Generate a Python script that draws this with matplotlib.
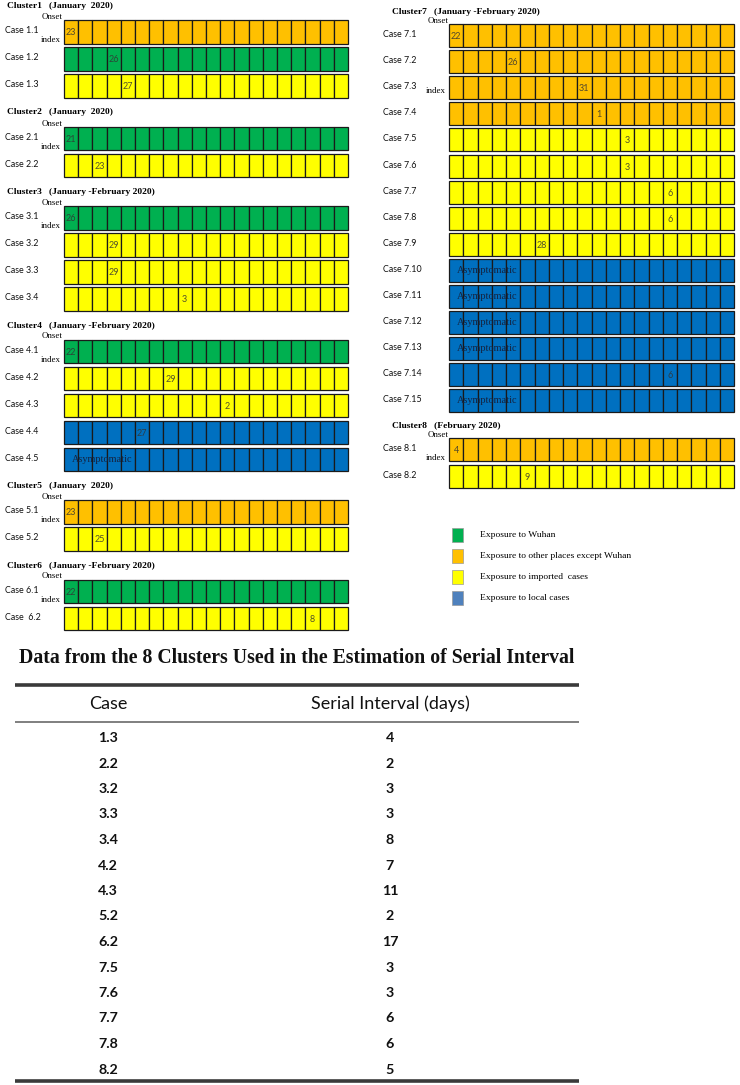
import matplotlib
matplotlib.use("Agg")
import matplotlib.pyplot as plt

# ---- data ----
cluster_titles = [
    "Cluster1   (January  2020)",
    "Cluster2   (January  2020)",
    "Cluster3   (January -February 2020)",
    "Cluster4   (January -February 2020)",
    "Cluster5   (January  2020)",
    "Cluster6   (January -February 2020)",
    "Cluster7   (January -February 2020)",
    "Cluster8   (February 2020)",
]

case_labels = [
    "Case 1.1", "Case 1.2", "Case 1.3",
    "Case 2.1", "Case 2.2",
    "Case 3.1", "Case 3.2", "Case 3.3", "Case 3.4",
    "Case 4.1", "Case 4.2", "Case 4.3", "Case 4.4", "Case 4.5",
    "Case 5.1", "Case 5.2",
    "Case 6.1", "Case  6.2",
    "Case 7.1", "Case 7.2", "Case 7.3", "Case 7.4", "Case 7.5", "Case 7.6",
    "Case 7.7", "Case 7.8", "Case 7.9", "Case 7.10", "Case 7.11", "Case 7.12",
    "Case 7.13", "Case 7.14", "Case 7.15",
    "Case 8.1", "Case 8.2",
]
case_cluster = [1, 1, 1, 2, 2, 3, 3, 3, 3, 4, 4, 4, 4, 4, 5, 5, 6, 6,
                7, 7, 7, 7, 7, 7, 7, 7, 7, 7, 7, 7, 7, 7, 7, 8, 8]
case_exposure = [
    "other", "wuhan", "imported",
    "wuhan", "imported",
    "wuhan", "imported", "imported", "imported",
    "wuhan", "imported", "imported", "local", "local",
    "other", "imported",
    "wuhan", "imported",
    "other", "other", "other", "other", "imported", "imported",
    "imported", "imported", "imported", "local", "local", "local",
    "local", "local", "local",
    "other", "imported",
]
# onset day label and the day cell (days after the index case onset)
case_onset = ["23", "26", "27", "21", "23", "26", "29", "29", "3",
              "22", "29", "2", "27", "Asymptomatic", "23", "25", "22", "8",
              "22", "26", "31", "1", "3", "3", "6", "6", "28",
              "Asymptomatic", "Asymptomatic", "Asymptomatic", "Asymptomatic",
              "6", "Asymptomatic", "4", "9"]
case_day = [0, 3, 4, 0, 2, 0, 3, 3, 8, 0, 7, 11, 5, 0, 0, 2, 0, 17,
            0, 4, 9, 10, 12, 12, 15, 15, 6, 0, 0, 0, 0, 15, 0, 0, 5]

onset_marks = ["Case 1.1", "Case 2.1", "Case 3.1", "Case 4.1", "Case 5.1",
               "Case 6.1", "Case 7.1", "Case 8.1"]
index_marks = ["Case 1.1", "Case 2.1", "Case 3.1", "Case 4.1", "Case 5.1",
               "Case 6.1", "Case 7.3", "Case 8.1"]

legend_labels = ["Exposure to Wuhan", "Exposure to other places except Wuhan",
                 "Exposure to imported  cases", "Exposure to local cases"]

table_title = "Data from the 8 Clusters Used in the Estimation of Serial Interval"
table_header = ["Case", "Serial Interval (days)"]
table_cases = ["1.3", "2.2", "3.2", "3.3", "3.4", "4.2", "4.3", "5.2", "6.2",
               "7.5", "7.6", "7.7", "7.8", "8.2"]
serial_interval = [4, 2, 3, 3, 8, 7, 11, 2, 17, 3, 3, 6, 6, 5]

# ---- style ----
colors = {"wuhan": "#00b050", "other": "#ffc000",
          "imported": "#ffff00", "local": "#0070c0"}
legend_colors = ["#00b050", "#ffc000", "#ffff00", "#4f81bd"]
n_cells = 20
serif = ["Liberation Serif", "DejaVu Serif"]
sans = ["Lato", "DejaVu Sans"]

fig = plt.figure(figsize=(7.4, 10.85), dpi=100)
ax = fig.add_axes([0, 0, 1, 1])
ax.set_xlim(0, 740)
ax.set_ylim(1085, 0)
ax.axis("off")

# panel layout: clusters 1-6 on the left, 7-8 on the right
panels = {
    "left": dict(clusters=[1, 2, 3, 4, 5, 6], x0=64, x1=348, lab_x=5,
                 title_x=7, y=6, gap=14, pitch=27, h=23.5, after=15),
    "right": dict(clusters=[7, 8], x0=449, x1=734, lab_x=383,
                  title_x=392, y=12, gap=12, pitch=26.1, h=23, after=14),
}

for p in panels.values():
    y = p["y"]
    cw = (p["x1"] - p["x0"]) / n_cells
    lefts = [p["x0"] + i * cw for i in range(n_cells)]
    for c in p["clusters"]:
        ax.text(p["title_x"], y, cluster_titles[c - 1], family=serif,
                fontweight="bold", fontsize=6.8, va="center", ha="left")
        top = y + p["gap"]
        idx = [i for i, k in enumerate(case_cluster) if k == c]
        for j, i in enumerate(idx):
            bt = top + j * p["pitch"]
            yc = bt + p["h"] / 2
            ax.barh([yc] * n_cells, [cw] * n_cells, left=lefts, height=p["h"],
                    color=colors[case_exposure[i]], edgecolor="#1a1a1a",
                    linewidth=0.9)
            name = case_labels[i]
            ax.text(p["lab_x"], yc - 1, name, family=sans, fontsize=6.4,
                    va="center", ha="left", color="#111111")
            if name in onset_marks:
                ax.text(p["x0"] - 1, bt - 3, "Onset", family=serif,
                        fontsize=6.4, va="center", ha="right")
            if name in index_marks:
                iy = bt + p["h"] - 3 if name in onset_marks else yc + 3
                ax.text(p["x0"] - 3, iy, "index", family=serif,
                        fontsize=6.4, va="center", ha="right")
            lab = case_onset[i]
            if lab == "Asymptomatic":
                ax.text(p["x0"] + 8, yc, lab, family=serif, fontsize=7.4,
                        va="center", ha="left", color="#15233f")
            else:
                ax.text(lefts[case_day[i]] + cw / 2, yc + 1, lab, family=sans,
                        fontsize=6.5, va="center", ha="center",
                        color="#333333", alpha=0.85)
        y = top + (len(idx) - 1) * p["pitch"] + p["h"] + p["after"]

# legend
for k, (lab, col) in enumerate(zip(legend_labels, legend_colors)):
    ly = 535 + k * 21
    ax.barh([ly], [11], left=[452], height=14, color=col,
            edgecolor="#9a9a9a", linewidth=0.5)
    ax.text(480, ly, lab, family=serif, fontsize=6.8, va="center", ha="left")

# table
ax.text(297, 658, table_title, family=serif, fontweight="bold",
        fontsize=14.2, ha="center", va="center", color="#111111")
ax.plot([15, 579], [685, 685], color="#3a3a3a", lw=2.6,
        solid_capstyle="butt")
ax.plot([15, 579], [722, 722], color="#6a6a6a", lw=1.2,
        solid_capstyle="butt")
ax.text(108, 704, table_header[0], family=sans, fontsize=13,
        ha="center", va="center", color="#111111")
ax.text(390, 704, table_header[1], family=sans, fontsize=13,
        ha="center", va="center", color="#111111")
for r, (cs, si) in enumerate(zip(table_cases, serial_interval)):
    ry = 738 + r * 25.5
    ax.text(108, ry, cs, family=sans, fontweight="bold", fontsize=10.3,
            ha="center", va="center", color="#111111")
    ax.text(390, ry, str(si), family=sans, fontweight="bold", fontsize=10.3,
            ha="center", va="center", color="#111111")
ax.plot([15, 579], [1081, 1081], color="#3a3a3a", lw=2.6,
        solid_capstyle="butt")

fig.savefig("out.png", dpi=100)
